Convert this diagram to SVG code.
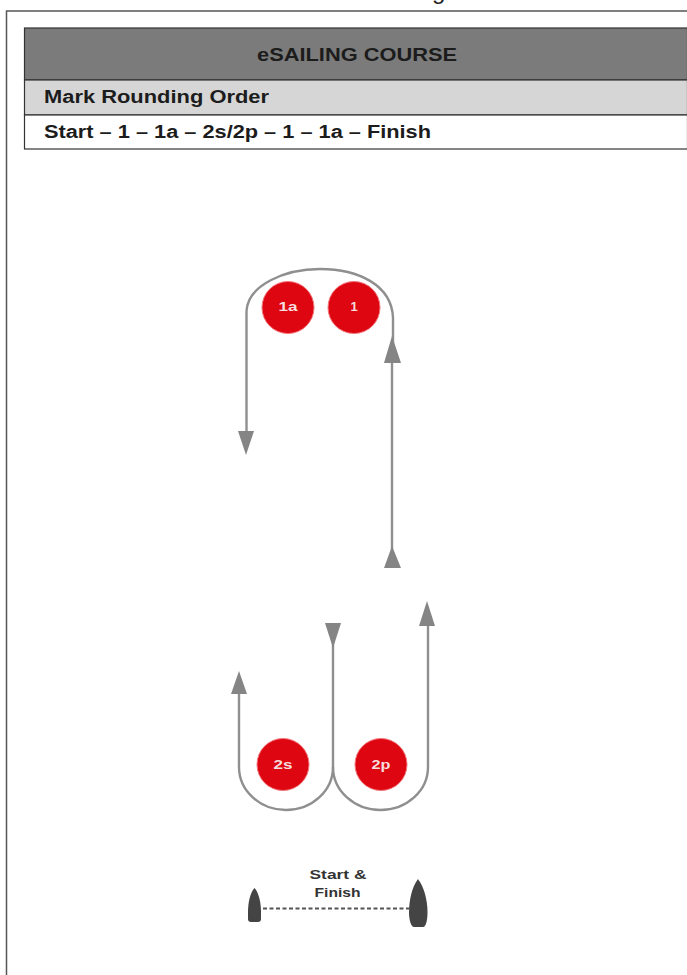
<svg xmlns="http://www.w3.org/2000/svg" width="687" height="975" viewBox="0 0 687 975">
<style>
text{font-family:"Liberation Sans",Arial,sans-serif;font-weight:bold;fill:#1c1c1c}
.hd{font-size:18px}
.mk{font-size:13px;fill:#f6dede;text-anchor:middle}
.lb{font-size:13px;fill:#333;text-anchor:middle}
.bar{stroke:#333;stroke-width:1.2}
.mark{fill:#de0610;stroke:#f2777c;stroke-width:1}
.route{fill:none;stroke:#8f8f8f;stroke-width:2.4}
.head{fill:#858585}
.boat{fill:#444}
</style>
<rect width="687" height="975" fill="#fff"/>
<g id="frame"><path d="M687 11H6.500V975" fill="none" stroke="#555" stroke-width="1.500"/></g>
<text x="432" y="-1" style="font-weight:normal;font-size:24px;fill:#222">g</text>
<g id="header">
<rect x="24.500" y="28" width="663" height="52" fill="#7b7b7b" class="bar"/>
<rect x="24.500" y="80" width="663" height="35" fill="#d6d6d6" class="bar"/>
<rect x="24.500" y="115" width="663" height="34" fill="#fff" class="bar"/>
<text x="257" y="61" class="hd" textLength="200" lengthAdjust="spacingAndGlyphs">eSAILING COURSE</text>
<text x="44" y="103" class="hd" textLength="225" lengthAdjust="spacingAndGlyphs">Mark Rounding Order</text>
<text x="44" y="138" class="hd" textLength="387" lengthAdjust="spacingAndGlyphs">Start – 1 – 1a – 2s/2p – 1 – 1a – Finish</text>
</g>
<g id="connectors">
<path class="route" d="M246.500 435V311C248 285 285 269 320 269C358 269 392 285 393 318V358"/>
<path class="route" d="M392 350V550"/>
<path class="route" d="M239 690V767A47 43 0 0 0 333 767V640"/>
<path class="route" d="M333 767A47.500 43 0 0 0 428 767V620"/>
<path class="route" d="M263 908.500H409" style="stroke:#555;stroke-width:2;stroke-dasharray:4 2.500"/>
<polygon class="head" points="246,455 238,431 254,431"/>
<polygon class="head" points="392,336 384,363 401,363"/>
<polygon class="head" points="392,546 384,568 401,568"/>
<polygon class="head" points="333,648 325,623 341,623"/>
<polygon class="head" points="427,601 419,626 435,626"/>
<polygon class="head" points="239,671 231,694 247,694"/>
</g>
<g id="mark-1a"><circle class="mark" cx="288" cy="307.500" r="26"/><text class="mk" x="288" y="311" textLength="19" lengthAdjust="spacingAndGlyphs">1a</text></g>
<g id="mark-1"><circle class="mark" cx="354" cy="307.500" r="26"/><text class="mk" x="354" y="311">1</text></g>
<g id="mark-2s"><circle class="mark" cx="283" cy="764.500" r="26"/><text class="mk" x="283" y="769" textLength="19" lengthAdjust="spacingAndGlyphs">2s</text></g>
<g id="mark-2p"><circle class="mark" cx="381" cy="764.500" r="26"/><text class="mk" x="381" y="769" textLength="19" lengthAdjust="spacingAndGlyphs">2p</text></g>
<g id="start-finish">
<path class="boat" d="M254.500 888C259 893 261 903 261 912V919Q261 922 258 922H251Q248 922 248 919V912C248 903 250 893 254.500 888Z"/>
<path class="boat" d="M418 879C424 887 427.500 900 427.500 912C427.500 920 426 927 423 927H414C411 927 409 920 409 912C409 900 412 887 418 879Z"/>
<text class="lb" x="338" y="879" textLength="57" lengthAdjust="spacingAndGlyphs">Start &amp;</text>
<text class="lb" x="337.500" y="897" textLength="46" lengthAdjust="spacingAndGlyphs">Finish</text>
</g>
</svg>
